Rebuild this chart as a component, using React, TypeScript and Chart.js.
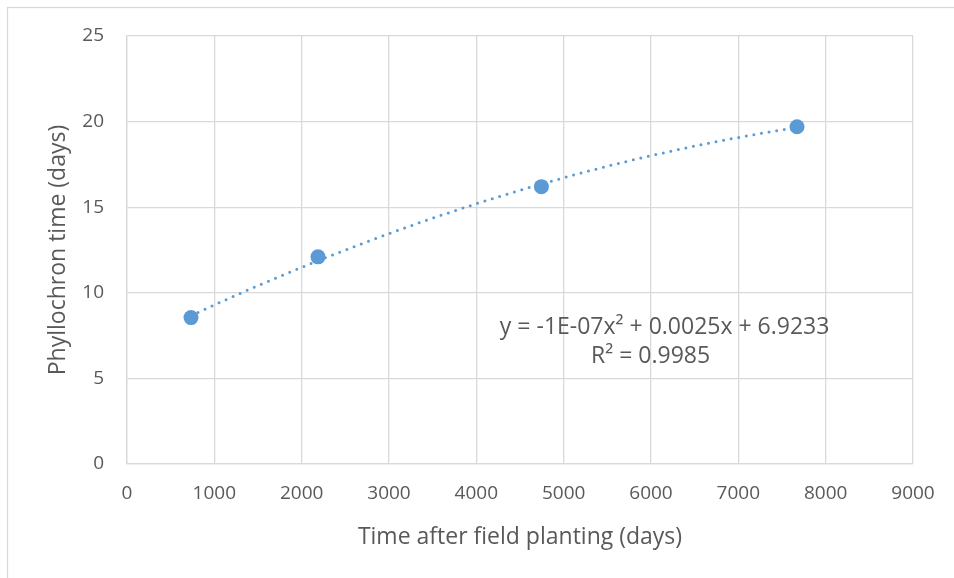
import React, { useEffect, useRef } from "react";
import { Chart, registerables } from "chart.js";

Chart.register(...registerables);

const xValues = [733, 2187, 4745, 7672];
const yValues = [8.55, 12.1, 16.2, 19.7];
const equationText = "y = -1E-07x² + 0.0025x + 6.9233";
const r2Text = "R² = 0.9985";
const xTitle = "Time after field planting (days)";
const yTitle = "Phyllochron time (days)";

const FONT = "'Open Sans', sans-serif";
const TEXT = "#595959";
const GRID = "#D9D9D9";
const BLUE = "#5B9BD5";

function quadFit(xs: number[], ys: number[]) {
  let s0 = xs.length, s1 = 0, s2 = 0, s3 = 0, s4 = 0, t0 = 0, t1 = 0, t2 = 0;
  for (let i = 0; i < xs.length; i++) {
    const x = xs[i], y = ys[i];
    s1 += x; s2 += x * x; s3 += x * x * x; s4 += x * x * x * x;
    t0 += y; t1 += x * y; t2 += x * x * y;
  }
  const M = [
    [s4, s3, s2, t2],
    [s3, s2, s1, t1],
    [s2, s1, s0, t0],
  ];
  for (let i = 0; i < 3; i++) {
    let p = i;
    for (let r = i + 1; r < 3; r++) if (Math.abs(M[r][i]) > Math.abs(M[p][i])) p = r;
    [M[i], M[p]] = [M[p], M[i]];
    for (let r = 0; r < 3; r++) {
      if (r === i) continue;
      const f = M[r][i] / M[i][i];
      for (let c = i; c < 4; c++) M[r][c] -= f * M[i][c];
    }
  }
  return [M[0][3] / M[0][0], M[1][3] / M[1][1], M[2][3] / M[2][2]];
}

export default function App() {
  const ref = useRef<HTMLCanvasElement>(null);
  useEffect(() => {
    const [a, b, c] = quadFit(xValues, yValues);
    const xmin = Math.min(...xValues), xmax = Math.max(...xValues);
    const trend: { x: number; y: number }[] = [];
    const n = 120;
    for (let i = 0; i <= n; i++) {
      const x = xmin + ((xmax - xmin) * i) / n;
      trend.push({ x, y: a * x * x + b * x + c });
    }

    const bgPlugin = {
      id: "frame",
      beforeDraw(chart: any) {
        const ctx = chart.ctx;
        ctx.save();
        ctx.fillStyle = "#fff";
        ctx.fillRect(0, 0, chart.width, chart.height);
        ctx.strokeStyle = GRID;
        ctx.lineWidth = 1.3;
        ctx.strokeRect(7.5, 7.5, chart.width + 20, chart.height + 20);
        ctx.restore();
      },
      afterDatasetsDraw(chart: any) {
        const ctx = chart.ctx;
        const area = chart.chartArea;
        ctx.save();
        ctx.fillStyle = TEXT;
        ctx.font = `23px ${FONT}`;
        ctx.textAlign = "center";
        ctx.textBaseline = "middle";
        const cx = area.left + (area.right - area.left) * 0.684;
        const cy = area.top + (area.bottom - area.top) * 0.682;
        ctx.fillText(equationText, cx, cy);
        ctx.fillText(r2Text, cx - 14, cy + 29);
        ctx.restore();
      },
    };

    const tickFont = { family: FONT, size: 19 };
    const titleFont = { family: FONT, size: 23 };

    const chart = new Chart(ref.current!, {
      type: "scatter",
      data: {
        datasets: [
          {
            label: "data",
            data: xValues.map((x, i) => ({ x, y: yValues[i] })),
            backgroundColor: BLUE,
            borderColor: BLUE,
            pointRadius: 7.5,
            pointBorderWidth: 0,
            order: 1,
          },
          {
            label: "trend",
            data: trend,
            showLine: true,
            pointRadius: 0,
            borderColor: BLUE,
            borderWidth: 3,
            borderDash: [0, 7.7],
            borderCapStyle: "round",
            fill: false,
            order: 2,
          } as any,
        ],
      },
      options: {
        animation: false,
        responsive: false,
        events: [],
        layout: { padding: { left: 0, top: 36, right: 41, bottom: 0 } },
        plugins: { legend: { display: false }, tooltip: { enabled: false } },
        scales: {
          x: {
            type: "linear",
            min: 0,
            max: 9000,
            ticks: { stepSize: 1000, color: TEXT, font: tickFont, padding: 18, maxRotation: 0, callback: (v: any) => String(v) },
            grid: { color: GRID, lineWidth: 1.3, drawTicks: false },
            border: { color: GRID, width: 1.3 },
            title: { display: true, text: xTitle, color: TEXT, font: titleFont, padding: { top: 0, bottom: 27 } },
            afterFit(scale: any) { scale.height = 114; },
          },
          y: {
            type: "linear",
            min: 0,
            max: 25,
            ticks: { stepSize: 5, color: TEXT, font: tickFont, padding: 23, callback: (v: any) => String(v) },
            grid: { color: GRID, lineWidth: 1.3, drawTicks: false },
            border: { color: GRID, width: 1.3 },
            title: { display: true, text: yTitle, color: TEXT, font: titleFont, padding: { top: 45, bottom: 0 } },
            afterFit(scale: any) { scale.width = 127; },
          },
        },
      },
      plugins: [bgPlugin],
    });
    return () => chart.destroy();
  }, []);
  return (
    <div style={{ position: "fixed", left: 0, top: 0, width: 954, height: 578 }}>
      <canvas ref={ref} width={954} height={578} style={{ width: 954, height: 578, display: "block" }} />
    </div>
  );
}
